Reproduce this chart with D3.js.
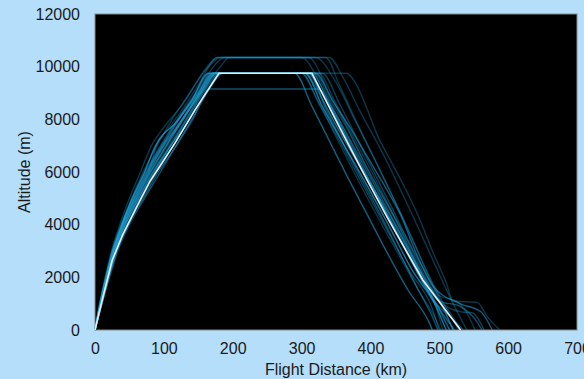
<!DOCTYPE html>
<html>
<head>
<meta charset="utf-8">
<script src="https://cdn.jsdelivr.net/npm/d3@7"></script>
<style>
  body { margin: 0; background: #b4defa; }
  svg { display: block; }
</style>
</head>
<body>
<div id="chart"></div>
<script>
// tick labels
const xTicks = [0, 100, 200, 300, 400, 500, 600, 700];
const yTicks = [0, 2000, 4000, 6000, 8000, 10000, 12000];

// reference (white) profile: [distance km, altitude m]
const mainProfile = [[0,0],[5,550],[12,1300],[25,2650],[40,3600],[60,4650],[80,5650],[116,7090],[145,8350],[180,9750],[315,9750],[355,7700],[395,5700],[425,4250],[476,1900],[531,0]];

// recorded flights
const flights = [
  [[0,0],[8,1000],[16,2000],[25,3000],[38,4000],[55,5000],[73,6000],[95,7000],[120,8000],[148,9000],[172,10000],[188,10350],[300,10350],[330,9200],[360,7700],[395,5900],[430,4100],[465,2400],[500,800],[515,0]],
  [[0,0],[9,1000],[18,2000],[28,3000],[42,4000],[60,5000],[78,6000],[92,7200],[102,7500],[125,8300],[150,9300],[178,10350],[340,10350],[360,9600],[385,8300],[420,6600],[455,4700],[490,2700],[520,1000],[540,0]],
  [[0,0],[7,1000],[15,2000],[24,3000],[36,4000],[50,5000],[66,6000],[82,7000],[100,7700],[125,8500],[150,9500],[165,10000],[182,10350],[310,10350],[340,9000],[370,7500],[400,5900],[440,4000],[470,2300],[495,900],[505,0]],
  [[0,0],[10,1000],[20,2000],[31,3000],[48,4000],[70,5000],[92,6000],[118,7000],[142,8000],[167,9150],[325,9150],[345,8400],[375,7000],[410,5300],[445,3600],[480,1900],[510,600],[520,0]],
  [[0,0],[9,1000],[18,2000],[28,3000],[43,4000],[62,5000],[82,6000],[105,7000],[128,8000],[152,9000],[178,9750],[365,9750],[380,9300],[395,8400],[410,7400],[430,6400],[450,5400],[470,4300],[490,3000],[510,1800],[520,1100],[555,1050],[570,500],[588,0]],
  [[0,0],[8,1000],[17,2000],[27,3000],[40,4000],[57,5000],[76,6000],[98,7000],[122,8000],[150,9000],[172,9750],[320,9750],[345,8700],[370,7700],[395,6600],[420,5500],[445,4300],[465,3000],[490,1700],[530,1000],[560,700],[577,0]],
  [[0,0],[9,1000],[19,2000],[30,3000],[45,4000],[64,5000],[85,6000],[108,7000],[132,8000],[160,9200],[176,9750],[300,9750],[325,8600],[355,7200],[385,5700],[420,4000],[455,2300],[490,800],[500,0]],
  [[0,0],[7,1000],[16,2000],[26,3000],[39,4000],[54,5000],[72,6000],[88,7000],[100,7450],[115,7800],[140,8700],[165,9750],[305,9750],[330,8500],[360,7100],[395,5500],[430,3800],[460,2300],[495,900],[510,0]],
  [[0,0],[10,1000],[21,2000],[33,3000],[50,4000],[72,5000],[95,6000],[120,7100],[145,8200],[170,9300],[185,9750],[310,9750],[335,8500],[360,7300],[390,6000],[425,4500],[460,2800],[490,1200],[520,400],[535,0]],
  [[0,0],[8,1000],[17,2000],[27,3000],[41,4000],[58,5000],[78,6000],[100,7000],[126,7900],[148,8800],[172,9750],[318,9750],[340,8800],[365,7700],[390,6400],[420,5000],[450,3600],[480,2200],[500,1300],[525,1100],[545,400],[552,0]],
  [[0,0],[9,1000],[18,2000],[29,3000],[44,4000],[63,5000],[84,6000],[110,7000],[135,7900],[158,8900],[185,9750],[312,9750],[332,8900],[355,7800],[380,6500],[410,5100],[440,3600],[470,2100],[500,800],[522,0]],
  [[0,0],[8,1000],[17,2000],[27,3000],[40,4000],[56,5000],[75,6000],[95,6900],[115,7600],[138,8400],[160,9200],[175,9750],[305,9750],[325,9000],[350,7800],[380,6400],[410,5000],[445,3300],[478,1700],[505,500],[515,0]],
  [[0,0],[9,1000],[19,2000],[30,3000],[45,4000],[64,5000],[86,6000],[110,7000],[135,8100],[160,9200],[182,10000],[195,10350],[320,10350],[350,9400],[375,8100],[400,6800],[430,5200],[460,3500],[490,1800],[515,600],[528,0]],
  [[0,0],[8,1000],[16,2000],[26,3000],[40,4000],[58,5000],[78,6000],[100,7000],[124,7900],[150,9000],[170,9750],[315,9750],[338,8700],[362,7500],[388,6200],[412,5000],[440,3700],[470,2300],[500,1100],[530,900],[555,300],[562,0]],
  [[0,0],[10,1000],[20,2000],[32,3000],[48,4000],[68,5000],[90,6000],[114,7000],[140,8100],[165,9150],[180,9750],[300,9750],[322,8800],[345,7600],[372,6200],[402,4700],[438,3000],[470,1500],[495,400],[502,0]],
  [[0,0],[8,1000],[17,2000],[28,3000],[42,4000],[60,5000],[80,6000],[103,7000],[127,8000],[153,9000],[175,9750],[290,9750],[315,8500],[340,7200],[365,5900],[395,4400],[425,2900],[455,1500],[485,300],[490,0]],
  [[0,0],[9,1000],[18,2000],[29,3000],[43,4000],[61,5000],[81,6000],[104,7000],[128,8000],[155,9100],[172,9750],[330,9750],[355,8600],[380,7300],[405,6000],[432,4600],[458,3200],[482,1900],[505,1000],[530,700],[548,650],[565,0]],
  [[0,0],[7,1000],[15,2000],[25,3000],[38,4000],[53,5000],[70,6000],[90,7000],[112,8000],[138,9000],[160,9900],[178,10350],[335,10350],[355,9300],[378,8000],[402,6700],[428,5300],[455,3800],[480,2300],[505,900],[520,0]],
  [[0,0],[10,1000],[20,2000],[31,3000],[47,4000],[66,5000],[87,6000],[110,7000],[134,8000],[160,9100],[180,9750],[310,9750],[335,8400],[362,7000],[390,5600],[418,4200],[445,2800],[470,1500],[490,500],[498,0]],
  [[0,0],[8,1000],[16,2000],[26,3000],[39,4000],[55,5000],[74,6000],[96,7000],[120,8000],[146,9000],[168,9750],[325,9750],[348,8700],[372,7500],[398,6200],[425,4800],[452,3400],[478,2000],[500,1100],[515,700],[530,0]]
];

const W = 584, H = 379;
const margin = { top: 14, right: 7, bottom: 49, left: 95 };
const width = W - margin.left - margin.right;
const height = H - margin.top - margin.bottom;

const svg = d3.select('#chart')
  .append('svg')
  .attr('width', W)
  .attr('height', H)
  .style('font-family', 'Arial, "Liberation Sans", sans-serif');

const g = svg.append('g')
  .attr('transform', `translate(${margin.left},${margin.top})`);

const x = d3.scaleLinear().domain([0, 700]).range([0, width]);
const y = d3.scaleLinear().domain([0, 12000]).range([height, 0]);

g.append('rect')
  .attr('width', width)
  .attr('height', height)
  .attr('fill', '#000')
  .attr('stroke', '#8a8a8a')
  .attr('stroke-width', 1);

const line = d3.line()
  .x(d => x(d[0]))
  .y(d => y(d[1]))
  .curve(d3.curveMonotoneX);

// high-cruise flights look fainter in the original
const opac = [0.6, 0.4, 0.75, 0.5, 0.35];
g.selectAll('.flight')
  .data(flights)
  .enter()
  .append('path')
  .attr('class', 'flight')
  .attr('d', line)
  .attr('fill', 'none')
  .attr('stroke', '#1f9fd4')
  .attr('stroke-width', 1.4)
  .attr('stroke-opacity', (d, i) => d3.max(d, p => p[1]) > 10000 ? 0.35 : opac[i % opac.length]);

g.append('path')
  .datum(mainProfile)
  .attr('d', d3.line().x(d => x(d[0])).y(d => y(d[1])))
  .attr('fill', 'none')
  .attr('stroke', '#e6eef2')
  .attr('stroke-width', 1.6);

const xAxis = g.append('g')
  .attr('transform', `translate(0,${height})`)
  .call(d3.axisBottom(x).tickValues(xTicks).tickFormat(d3.format('d')).tickSize(0).tickPadding(13));
const yAxis = g.append('g')
  .call(d3.axisLeft(y).tickValues(yTicks).tickFormat(d3.format('d')).tickSize(0).tickPadding(15));

[xAxis, yAxis].forEach(a => {
  a.select('.domain').remove();
  a.selectAll('text')
    .style('font-size', '16px')
    .style('font-family', 'Arial, "Liberation Sans", sans-serif')
    .attr('fill', '#1a1a1a');
});

svg.append('text')
  .attr('x', margin.left + width / 2)
  .attr('y', H - 4)
  .attr('text-anchor', 'middle')
  .style('font-size', '16px')
  .attr('fill', '#1a1a1a')
  .text('Flight Distance (km)');

svg.append('text')
  .attr('transform', `translate(30,${margin.top + height / 2}) rotate(-90)`)
  .attr('text-anchor', 'middle')
  .style('font-size', '16px')
  .attr('fill', '#1a1a1a')
  .text('Altitude (m)');
</script>
</body>
</html>
